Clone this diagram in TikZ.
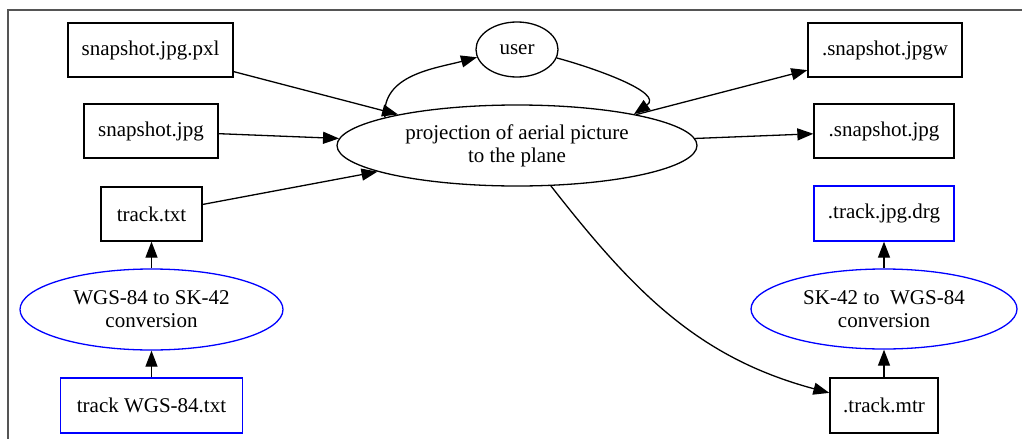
\documentclass[tikz,border=0pt]{standalone}
\usepackage{fontspec}
\setmainfont{Liberation Serif}
\usetikzlibrary{shapes.geometric,arrows.meta}
\definecolor{framegray}{RGB}{85,85,85}
\begin{document}
\begin{tikzpicture}[x=1pt,y=1pt,
  every node/.style={font=\fontsize{21pt}{23pt}\selectfont},
  box/.style={draw=black,line width=1.3pt,rectangle,inner sep=0pt,minimum height=54pt},
  bbox/.style={box,draw=blue},
  oval/.style={draw=black,line width=1.3pt,ellipse,inner sep=0pt,align=center},
  boval/.style={oval,draw=blue},
  edge/.style={line width=1.3pt,-{Triangle[length=16pt,width=12pt]}}]
\useasboundingbox (0,0) rectangle (1022,-439);
\draw[line width=1.5pt,draw=framegray] (1022,-10) -- (8,-10) -- (8,-439);

\node[box,minimum width=165pt] (pxl) at (150.5,-50) {snapshot.jpg.pxl};
\node[box,minimum width=134pt] (snap) at (151,-131) {snapshot.jpg};
\node[box,minimum width=101pt] (track) at (151.5,-214) {track.txt};
\node[boval,minimum width=263pt,minimum height=81pt] (wgs) at (151.5,-309.5) {WGS-84 to SK-42\\conversion};
\node[bbox,minimum width=182pt,minimum height=55pt] (twgs) at (151.5,-405.5) {track WGS-84.txt};

\node[oval,minimum width=82pt,minimum height=55pt] (user) at (517,-49.5) {user};
\node[oval,minimum width=360pt,minimum height=81pt] (proj) at (517,-145.5) {projection of aerial picture\\to the plane};

\node[box,minimum width=154pt] (jpgw) at (885,-50) {.snapshot.jpgw};
\node[box,minimum width=140pt] (osnap) at (884,-131) {.snapshot.jpg};
\node[bbox,minimum width=140pt,minimum height=55pt] (drg) at (884,-213.5) {.track.jpg.drg};
\node[boval,minimum width=266pt,minimum height=80pt] (sk) at (884,-309) {SK-42 to~ WGS-84\\conversion};
\node[box,minimum width=108pt,minimum height=55pt] (mtr) at (884,-405.5) {.track.mtr};

\draw[edge] (pxl) -- (proj);
\draw[edge] (snap) -- (proj);
\draw[edge] (track) -- (proj);
\draw[edge] (proj) -- (jpgw);
\draw[edge] (proj) -- (osnap);
\draw[edge] (proj.168) to[out=95,in=195] (user.191);
\draw[edge] (user.-12) to[out=-15,in=35] (proj.15);
\draw[edge] (proj.-50) to[out=-52,in=165] (mtr.167);

\draw[edge] (twgs) -- (wgs);
\draw[edge] (wgs) -- (track);
\draw[edge] (mtr) -- (sk);
\draw[edge] (sk) -- (drg);
\end{tikzpicture}
\end{document}
